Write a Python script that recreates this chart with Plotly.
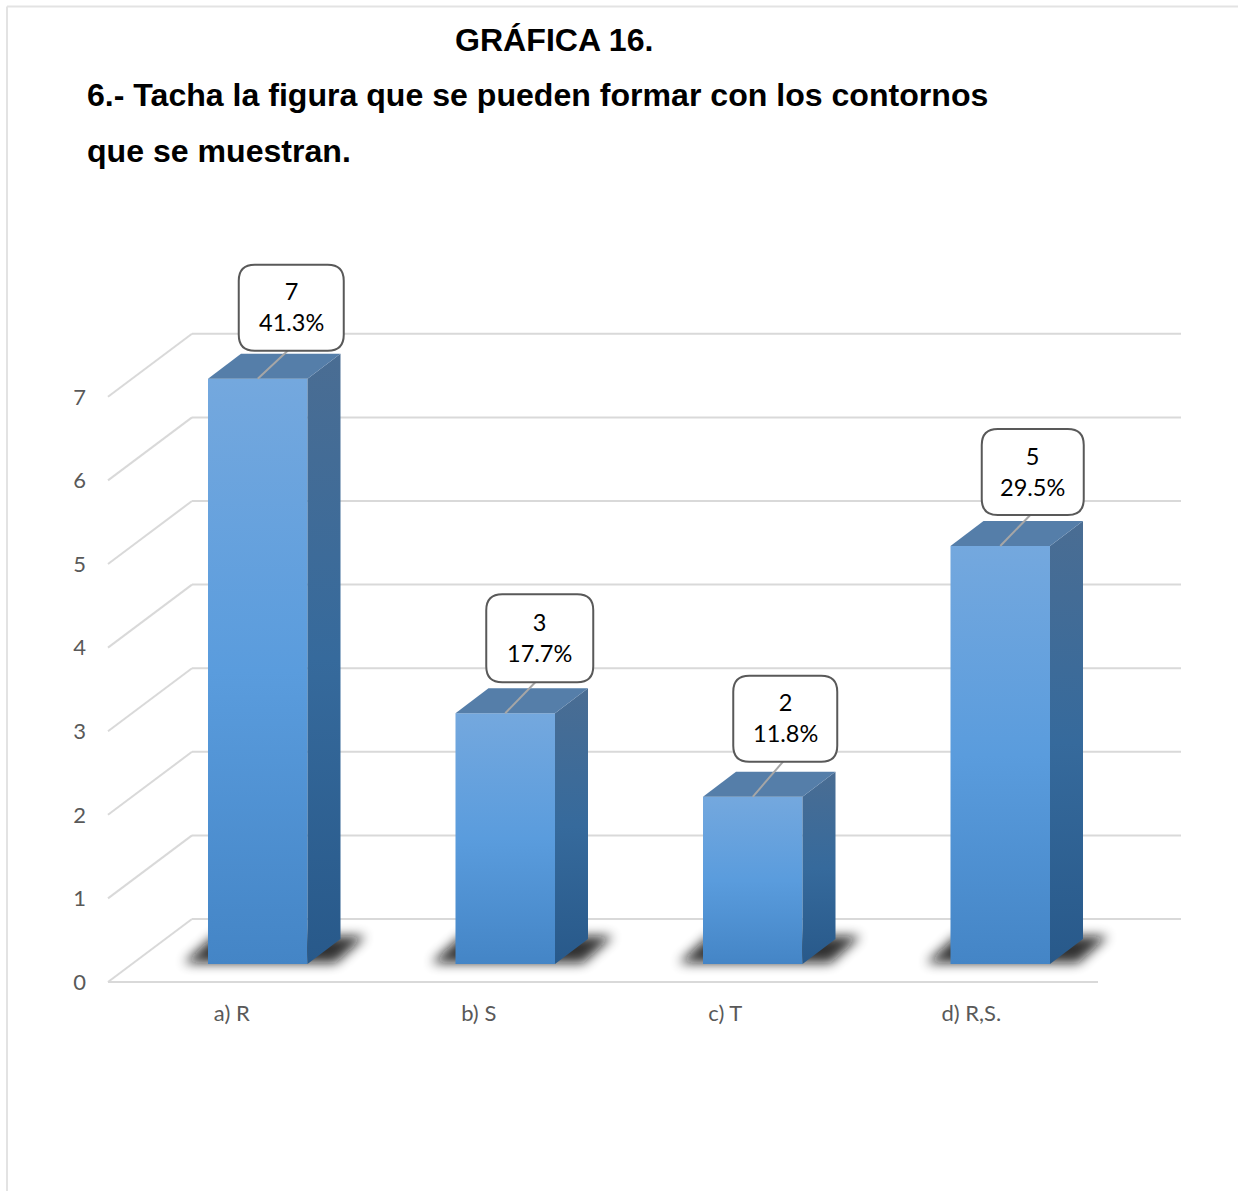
import plotly.graph_objects as go

# ---- data ----
CATEGORIES = ["a) R", "b) S", "c) T", "d) R,S."]
VALUES = [7, 3, 2, 5]
PERCENTS = ["41.3%", "17.7%", "11.8%", "29.5%"]
Y_TICKS = [0, 1, 2, 3, 4, 5, 6, 7]
TITLE = "GRÁFICA 16."
QUESTION_1 = "6.- Tacha la figura que se pueden formar con los contornos"
QUESTION_2 = "que se muestran."

# ---- layout / style constants ----
W, H = 1238, 1191
X0_PX, UX = 231.75, 247.5      # pixel of category 0, pixels per category
Y0_PX, UY = 982.0, 83.6        # pixel of value 0 at the front of the floor, pixels per unit
WALL_DX, WALL_DY = 84 / UX, 63 / UY      # depth of the 3D box
BAR_DX, BAR_DY = 33 / UX, 25 / UY        # depth of each bar
BAR_SHIFT, BAR_BASE, BAR_W = 26 / UX, 18 / UY, 99.5 / UX
BOX_W = [105, 107, 104, 102]
BOX_H = [86, 88, 86, 86]
BOX_LIFT = [71, 75, 78, 74]
BOX_SHIFT = [33.5, 34.5, 32.5, 32.5]
TICK_NUDGE = [0, -0.5, -1.5, -3]
GRID = "#d9d9d9"

x_range = [(0 - X0_PX) / UX, (W - X0_PX) / UX]
y_range = [(Y0_PX - H) / UY, Y0_PX / UY]
xfront_left = (108 - X0_PX) / UX
xfront_right = (1098 - X0_PX) / UX
xback_right = (1181 - X0_PX) / UX
xback_left = xfront_left + WALL_DX

fig = go.Figure()

# front faces
centers = [i + BAR_SHIFT for i in range(len(VALUES))]
fig.add_trace(go.Bar(x=centers, y=VALUES, base=BAR_BASE, width=BAR_W,
                     marker=dict(color="#5a9bdd", line=dict(width=0)), hoverinfo="skip"))

# right side faces
for c, v in zip(centers, VALUES):
    xr = c + BAR_W / 2
    fig.add_trace(go.Scatter(
        x=[xr, xr + BAR_DX, xr + BAR_DX, xr, xr],
        y=[BAR_BASE, BAR_BASE + BAR_DY, BAR_BASE + BAR_DY + v, BAR_BASE + v, BAR_BASE],
        mode="lines", line=dict(width=0), fill="toself", fillcolor="#356897", hoverinfo="skip"))
# top faces
for c, v in zip(centers, VALUES):
    xl, xr = c - BAR_W / 2, c + BAR_W / 2
    t = BAR_BASE + v
    fig.add_trace(go.Scatter(
        x=[xl, xr, xr + BAR_DX, xl + BAR_DX, xl],
        y=[t, t, t + BAR_DY, t + BAR_DY, t],
        mode="lines", line=dict(width=0), fill="toself", fillcolor="#557ea9", hoverinfo="skip"))

shapes = []
line = dict(color=GRID, width=2)
# walls
for k in Y_TICKS:
    shapes.append(dict(type="line", xref="x", yref="y", layer="below", line=line,
                       x0=xback_left, x1=xback_right, y0=k + WALL_DY, y1=k + WALL_DY))
    shapes.append(dict(type="line", xref="x", yref="y", layer="below", line=line,
                       x0=xfront_left, x1=xback_left, y0=k, y1=k + WALL_DY))
shapes.append(dict(type="line", xref="x", yref="y", layer="below", line=line,
                   x0=xfront_left, x1=xfront_right, y0=0, y1=0))
# floor shadows
for c in centers:
    xl, xr = c - BAR_W / 2, c + BAR_W / 2
    a, b = xl - 24 / UX, xr + 28 / UX
    d, e = 30 / UX, 27 / UY
    y0 = BAR_BASE + 1 / UY
    shapes.append(dict(type="path", xref="x", yref="y", layer="below", line=dict(width=0),
                       fillcolor="#111111", opacity=0.85,
                       path=f"M{a},{y0} L{b},{y0} L{b + d},{y0 + e} L{a + d},{y0 + e} Z"))
# callouts
for c, v, w, h, lift, sh in zip(centers, VALUES, BOX_W, BOX_H, BOX_LIFT, BOX_SHIFT):
    top = BAR_BASE + v
    bx = c + sh / UX
    by = top + lift / UY
    shapes.append(dict(type="line", xref="x", yref="y", layer="above",
                       line=dict(color="#a6a6a6", width=2),
                       x0=c, y0=top, x1=c + 31 / UX, y1=top + (lift - h / 2 + 1) / UY))
    hw, hh, r = w / 2, h / 2, 16
    path = (f"M{-hw + r},{-hh} L{hw - r},{-hh} Q{hw},{-hh} {hw},{-hh + r} "
            f"L{hw},{hh - r} Q{hw},{hh} {hw - r},{hh} L{-hw + r},{hh} "
            f"Q{-hw},{hh} {-hw},{hh - r} L{-hw},{-hh + r} Q{-hw},{-hh} {-hw + r},{-hh} Z")
    shapes.append(dict(type="path", xref="x", yref="y", layer="above",
                       xsizemode="pixel", ysizemode="pixel", xanchor=bx, yanchor=by, path=path,
                       fillcolor="white", line=dict(color="#595959", width=2)))
# page frame
frame = dict(color="#e3e3e3", width=2)
shapes.append(dict(type="line", xref="paper", yref="paper", layer="below", line=frame,
                   x0=7 / W, x1=1, y0=1 - 6.5 / H, y1=1 - 6.5 / H))
shapes.append(dict(type="line", xref="paper", yref="paper", layer="below", line=frame,
                   x0=7 / W, x1=7 / W, y0=0, y1=1 - 6.5 / H))

annotations = []
for c, v, p, lift, sh in zip(centers, VALUES, PERCENTS, BOX_LIFT, BOX_SHIFT):
    annotations.append(dict(xref="x", yref="y", x=c + sh / UX, y=BAR_BASE + v + (lift + 1) / UY,
                            text=f"{v}<br>{p}", showarrow=False, align="center",
                            xanchor="center", yanchor="middle",
                            font=dict(family="Lato", size=23.5, color="#000000")))
head = dict(family="Liberation Sans", size=32.1, color="black")
for text, px, py in [(TITLE, 453, 40), (QUESTION_1, 85, 95), (QUESTION_2, 85, 151)]:
    annotations.append(dict(xref="paper", yref="paper", x=px / W, y=1 - py / H,
                            text=f"<b>{text}</b>", showarrow=False,
                            xanchor="left", yanchor="middle", font=head))

fig.update_layout(
    width=W, height=H, margin=dict(l=0, r=0, t=0, b=0), autosize=False,
    paper_bgcolor="white", plot_bgcolor="white", showlegend=False,
    shapes=shapes, annotations=annotations,
    xaxis=dict(range=x_range, domain=[0, 1], tickmode="array",
               tickvals=[i + n / UX for i, n in enumerate(TICK_NUDGE)],
               ticktext=CATEGORIES, showgrid=False, zeroline=False, showline=False, ticks="",
               anchor="free", position=(H - Y0_PX) / H, ticklabelstandoff=16,
               tickfont=dict(family="Lato", size=22, color="#595959")),
    yaxis=dict(range=y_range, domain=[0, 1], tickmode="array", tickvals=Y_TICKS,
               showgrid=False, zeroline=False, showline=False, ticks="",
               anchor="free", position=108 / W, ticklabelstandoff=22,
               tickfont=dict(family="Lato", size=22, color="#595959")),
)

post = """
document.body.style.margin = '0';
var gd = document.getElementById('{plot_id}');
var svg = gd.querySelector('svg.main-svg');
var ns = 'http://www.w3.org/2000/svg';
var defs = document.createElementNS(ns, 'defs');
function grad(id, stops) {
  var g = document.createElementNS(ns, 'linearGradient');
  g.setAttribute('id', id); g.setAttribute('x1', '0'); g.setAttribute('y1', '0');
  g.setAttribute('x2', '0'); g.setAttribute('y2', '1');
  stops.forEach(function (s) {
    var e = document.createElementNS(ns, 'stop');
    e.setAttribute('offset', s[0]); e.setAttribute('stop-color', s[1]); g.appendChild(e);
  });
  defs.appendChild(g);
}
grad('frontGrad', [[0, '#74a8de'], [0.5, '#5a9cdd'], [1, '#4485c6']]);
grad('sideGrad', [[0, '#4a6d93'], [0.5, '#366a9c'], [1, '#28598a']]);
var fl = document.createElementNS(ns, 'filter');
fl.setAttribute('id', 'softShadow');
fl.setAttribute('x', '-30%'); fl.setAttribute('y', '-80%');
fl.setAttribute('width', '160%'); fl.setAttribute('height', '260%');
var blur = document.createElementNS(ns, 'feGaussianBlur');
blur.setAttribute('stdDeviation', '6');
fl.appendChild(blur);
defs.appendChild(fl);
svg.insertBefore(defs, svg.firstChild);
gd.querySelectorAll('.barlayer .point path').forEach(function (p) { p.style.fill = 'url(#frontGrad)'; });
var traces = gd.querySelectorAll('.scatterlayer .trace');
for (var i = 0; i < 4; i++) {
  var f = traces[i].querySelector('path.js-fill');
  if (f) f.style.fill = 'url(#sideGrad)';
}
gd.querySelectorAll('path').forEach(function (p) {
  if ((p.style.fill || '').indexOf('17, 17, 17') >= 0) {
    p.setAttribute('filter', 'url(#softShadow)');
    p.removeAttribute('clip-path');
  }
});
"""
fig.write_html("out.html", post_script=post, config=dict(displayModeBar=False))
